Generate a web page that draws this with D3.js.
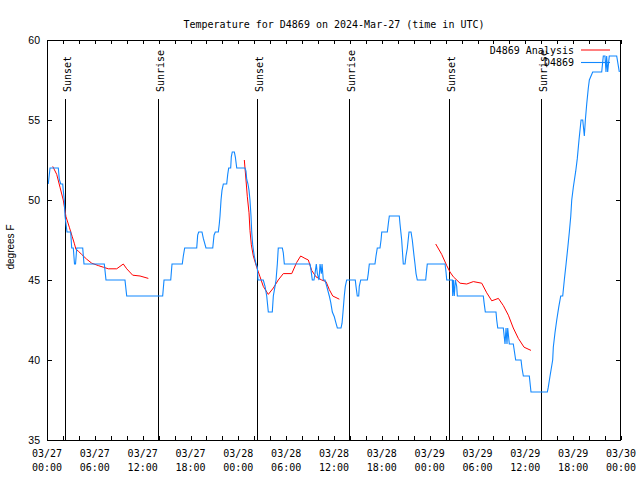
<!DOCTYPE html>
<html>
<head>
<meta charset="utf-8">
<script src="https://cdn.jsdelivr.net/npm/d3@7"></script>
<style>
  html, body { margin: 0; padding: 0; background: #fff; }
  svg { display: block; }
  .mono { font-family: "DejaVu Sans Mono", monospace; font-size: 10px; fill: #000; }
  .sans { font-family: "Liberation Sans", "DejaVu Sans", sans-serif; font-size: 10.5px; fill: #000; }
</style>
</head>
<body>
<svg id="chart" width="640" height="480"></svg>
<script>
// ---------------- DATA (hours since 2024-03-27 00:00 UTC) ----------------
const titleText = "Temperature for D4869 on 2024-Mar-27 (time in UTC)";
const yLabel = "degrees F";
const seriesNames = ["D4869 Analysis", "D4869"];
const yTicks = [35, 40, 45, 50, 55, 60];

// Observed station temperature (D4869)
const obsHours = [0.16,0.38,1.42,1.54,1.72,1.97,2.04,2.17,2.26,2.51,2.97,3.10,3.30,3.45,3.58,3.73,4.48,4.64,7.19,7.40,9.78,10.0,14.51,14.68,15.52,15.68,16.97,17.10,17.27,18.78,18.90,19.03,19.44,19.61,19.94,20.79,20.95,21.11,21.49,21.61,21.70,21.83,21.95,22.12,22.54,22.67,22.79,23.04,23.12,23.24,23.50,23.62,23.80,24.84,24.96,25.05,25.21,25.34,25.46,25.59,25.68,25.80,26.00,26.22,26.38,26.47,27.13,27.35,27.56,27.76,28.26,28.39,28.60,28.73,28.89,29.01,29.52,29.64,29.77,32.99,33.12,33.28,33.49,33.62,33.78,33.91,34.12,34.25,34.41,34.50,34.66,34.87,35.09,35.41,35.59,35.79,36.04,36.25,36.42,36.88,37.01,37.13,37.29,37.42,37.59,38.67,38.76,38.92,39.10,39.17,39.35,40.18,40.30,40.43,41.14,41.27,41.43,41.77,41.90,41.99,42.69,42.81,42.94,44.19,44.28,44.49,44.69,44.91,45.03,45.20,45.41,45.66,45.82,46.04,46.16,46.29,46.45,47.50,47.58,47.70,49.93,50.05,50.14,50.84,50.89,50.97,51.09,51.22,51.39,51.47,54.73,54.82,54.98,56.32,56.41,56.54,57.24,57.45,57.58,57.70,57.79,57.99,58.49,58.79,59.46,59.58,59.75,60.50,60.71,62.76,62.88,63.10,63.43,63.51,63.72,63.94,64.19,64.44,64.69,64.89,65.11,65.32,65.52,65.70,65.82,66.02,66.32,66.52,66.74,66.99,67.20,67.40,67.53,67.70,67.90,68.03,68.45,69.58,69.78,69.99,70.12,70.20,70.33,70.53,71.46,71.79];
const obsTemps = [51,52,52,51.3,51,51,50.6,50,49,48,48,47,47,46,46,47,47,46,46,45,45,44,44,45,45,46,46,46.5,47,47,47.8,48,48,47.6,47,47,47.8,48,48,48.5,49,50,50.6,51,51,51.6,52,52,52.7,53,53,52.7,52,52,51.8,51.3,51,50.6,50,49,48,47.2,46.5,46,45.8,45,45,44.6,44,43,43,44,44.6,45,46,47,47,46.7,46,46,45.6,45,45,45.4,46,45.4,45,46,45.4,46,45,45,44.6,44,43.6,43,42.7,42.3,42,42,42.3,43,44,44.6,45,45,44.6,44,44,44.6,45,45,45.4,46,46,46.5,47,47,47.5,48,48,48.5,49,49,48.5,47.5,46,46,46.5,47,48,48,47.5,46.5,46,45.4,45,45,45.4,46,46,45.5,45,45,44,45,44,45,44.6,44,44,43.6,43,43,42.5,42,42,41,42,41,42,41,41,40,40,39.5,39,39,38,38,38.3,39,40,40.8,41.7,42.5,43.3,44,44,45,46,47,48,49,50,50.8,51.8,52.6,53.8,55,55,54,55,56,57,57.5,58,58,59,59,58,59,58,59,59,58];

// Analysis temperature (null = gap between runs)
const anaHours = [0.72,1.22,1.63,2.04,2.38,2.80,3.17,3.42,3.64,3.93,4.35,4.98,5.61,6.44,7.06,7.69,8.74,9.57,10.00,10.75,11.67,12.71,
  null,
  24.75,24.96,25.13,25.34,25.46,25.63,25.88,26.30,26.72,27.13,27.76,28.39,29.01,29.64,30.70,31.32,31.82,32.36,32.78,33.20,33.74,34.46,35.00,35.41,35.84,36.67,
  null,
  48.76,49.51,50.14,50.55,50.97,51.81,52.65,53.48,54.53,55.16,55.79,56.62,57.24,57.87,58.49,59.12,59.84,60.71];
const anaTemps = [52.1,51.6,50.8,50,48.96,48.3,47.7,47.3,46.9,46.8,46.6,46.3,46.05,45.9,45.8,45.7,45.7,46,45.7,45.3,45.25,45.1,
  null,
  52.5,51.25,50.2,49.2,48.1,47.2,46.5,45.8,45.2,44.6,44.1,44.5,45,45.4,45.4,46.1,46.5,46.35,46.25,45.6,45.2,45,44.9,44.4,44,43.8,
  null,
  47.25,46.6,45.9,45.5,45.2,44.8,44.75,44.9,44.8,44.2,43.7,43.85,43.4,42.8,42.0,41.35,40.8,40.6];

// Sunrise / sunset events
const sunHours = [2.28, 13.96, 26.38, 37.92, 50.46, 62.0];
const sunLabels = ["Sunset", "Sunrise", "Sunset", "Sunrise", "Sunset", "Sunrise"];

// ---------------- CHART ----------------
const startMs = Date.UTC(2024, 2, 27, 0, 0);
const endMs = Date.UTC(2024, 2, 30, 0, 0);
const toDate = h => new Date(startMs + h * 3600e3);

const L = 47, R = 621, T = 40, B = 440;
const svg = d3.select("#chart");

const x = d3.scaleUtc().domain([new Date(startMs), new Date(endMs)]).range([L, R]);
const y = d3.scaleLinear().domain([35, 60]).range([B, T]);

// Title
svg.append("text").attr("class", "mono").attr("x", 334).attr("y", 28)
  .attr("text-anchor", "middle").text(titleText);

// Y label
svg.append("text").attr("class", "sans")
  .attr("transform", "translate(14,247) rotate(-90)")
  .attr("text-anchor", "middle").style("font-size", "10px").text(yLabel);

// Minor x ticks (every 2 hours) - bottom and top, inward
const tick2 = d3.utcHour.every(2).range(new Date(startMs), new Date(endMs + 1));
svg.append("g").attr("transform", `translate(0,${B})`)
  .call(d3.axisBottom(x).tickValues(tick2).tickSize(-4).tickFormat(""))
  .call(g => g.select(".domain").remove())
  .call(g => g.selectAll("line").attr("stroke", "#000").attr("shape-rendering", "crispEdges"));
svg.append("g").attr("transform", `translate(0,${T})`)
  .call(d3.axisTop(x).tickValues(tick2).tickSize(-4).tickFormat(""))
  .call(g => g.select(".domain").remove())
  .call(g => g.selectAll("line").attr("stroke", "#000").attr("shape-rendering", "crispEdges"));

// X tick labels every 6 hours
const tick6 = d3.utcHour.every(6).range(new Date(startMs), new Date(endMs + 1));
const fmtD = d3.utcFormat("%m/%d"), fmtH = d3.utcFormat("%H:%M");
const xl = svg.append("g");
tick6.forEach(d => {
  const t = xl.append("text").attr("class", "mono").attr("text-anchor", "middle");
  t.append("tspan").attr("x", x(d)).attr("y", 457).text(fmtD(d));
  t.append("tspan").attr("x", x(d)).attr("y", 471).text(fmtH(d));
});

// Y axes
svg.append("g").attr("transform", `translate(${L},0)`)
  .call(d3.axisLeft(y).tickValues(yTicks).tickSize(-5).tickPadding(7).tickFormat(d3.format("d")))
  .call(g => g.select(".domain").remove())
  .call(g => g.selectAll("line").attr("stroke", "#000").attr("shape-rendering", "crispEdges"))
  .call(g => g.selectAll("text").attr("class", "sans").attr("font-family", null).attr("font-size", null).attr("fill", "#000"));
svg.append("g").attr("transform", `translate(${R},0)`)
  .call(d3.axisRight(y).tickValues(yTicks).tickSize(-5).tickFormat(""))
  .call(g => g.select(".domain").remove())
  .call(g => g.selectAll("line").attr("stroke", "#000").attr("shape-rendering", "crispEdges"));

// Sunrise/sunset lines
sunHours.forEach((h, i) => {
  const xx = Math.round(x(toDate(h))) + 0.5;
  svg.append("line").attr("x1", xx).attr("x2", xx).attr("y1", 99).attr("y2", B)
    .attr("stroke", "#000").attr("stroke-width", 1).attr("shape-rendering", "crispEdges");
  svg.append("text").attr("class", "mono")
    .attr("transform", `translate(${xx + 5},92) rotate(-90)`)
    .attr("text-anchor", "start").text(sunLabels[i]);
});

// Analysis line (red)
const ana = anaHours.map((h, i) => ({ h, t: anaTemps[i] }));
const lineAna = d3.line().defined(d => d.h != null && d.t != null)
  .x(d => x(toDate(d.h))).y(d => y(d.t));
svg.append("path").datum(ana).attr("d", lineAna)
  .attr("fill", "none").attr("stroke", "#ff0000").attr("stroke-width", 1);

// Observed line (blue)
const obs = obsHours.map((h, i) => ({ h, t: obsTemps[i] }));
const lineObs = d3.line().x(d => x(toDate(d.h))).y(d => y(d.t));
svg.append("path").datum(obs).attr("d", lineObs)
  .attr("fill", "none").attr("stroke", "#1188ff").attr("stroke-width", 1.1);

// Legend
const legColors = ["#ff0000", "#1188ff"];
const legY = [50, 62.5];
seriesNames.forEach((n, i) => {
  svg.append("text").attr("class", "mono").attr("x", 574).attr("y", legY[i] + 3.5)
    .attr("text-anchor", "end").text(n);
  svg.append("line").attr("x1", 581).attr("x2", 610).attr("y1", legY[i]).attr("y2", legY[i])
    .attr("stroke", legColors[i]).attr("stroke-width", i === 0 ? 1 : 1.1);
});

// Border
svg.append("rect").attr("x", L + 0.5).attr("y", T + 0.5).attr("width", R - L - 1).attr("height", B - T)
  .attr("fill", "none").attr("stroke", "#000").attr("stroke-width", 1).attr("shape-rendering", "crispEdges");
</script>
</body>
</html>
